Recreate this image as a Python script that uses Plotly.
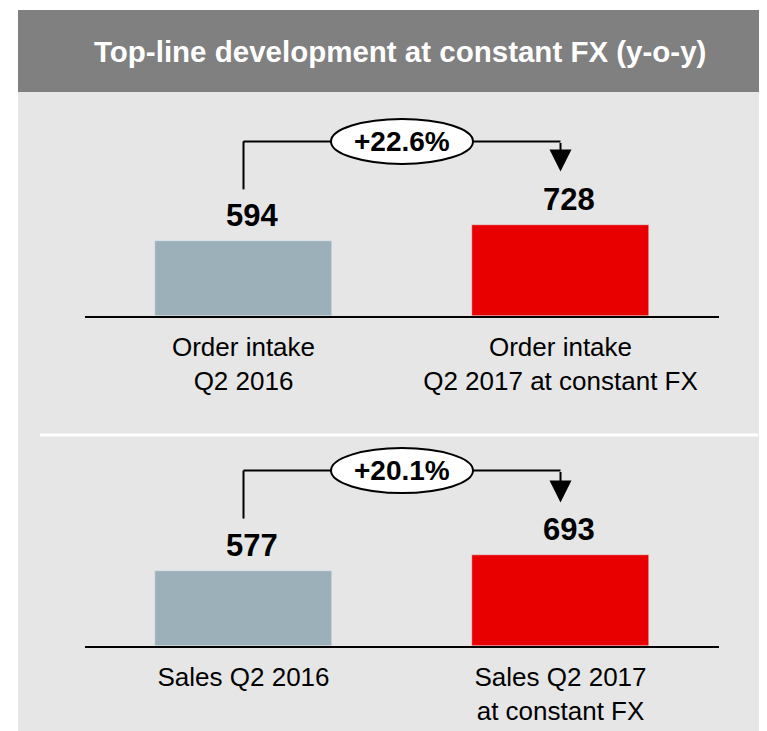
import plotly.graph_objects as go

# the page body has an 8px margin, so the figure starts at (8, 8)
OFF = 8
W, H = 767 - OFF, 731 - OFF

title = "Top-line development at constant FX (y-o-y)"

order_labels = ["Order intake<br>Q2 2016", "Order intake<br>Q2 2017 at constant FX"]
order_values = [594, 728]
order_change = "+22.6%"

sales_labels = ["Sales Q2 2016", "Sales Q2 2017<br>at constant FX"]
sales_values = [577, 693]
sales_change = "+20.1%"

bar_colors = ["#9BB0B8", "#E80000"]
FONT = "Liberation Sans, Arial, sans-serif"


def px_x(p):
    return (p - OFF) / W


def px_y(p):
    return 1 - (p - OFF) / H


# pixel geometry of each panel: baseline, top of plot area, y-range max
panels = [
    dict(xa="x", ya="y", labels=order_labels, values=order_values,
         change=order_change, base=316, top=92, ymax=1783),
    dict(xa="x2", ya="y2", labels=sales_labels, values=sales_values,
         change=sales_change, base=646, top=438, ymax=1591),
]

x0_px, x1_px = 85, 719
cat_px = (x1_px - x0_px) / 2  # pixels per category

fig = go.Figure()

shapes = [
    # light background and dark header band
    dict(type="rect", xref="paper", yref="paper", x0=px_x(18), x1=1,
         y0=0, y1=px_y(92), fillcolor="#E6E6E6", line_width=0, layer="below"),
    dict(type="rect", xref="paper", yref="paper", x0=px_x(18), x1=1,
         y0=px_y(92), y1=px_y(10), fillcolor="#808080", line_width=0, layer="below"),
    # white separator between panels
    dict(type="line", xref="paper", yref="paper", x0=px_x(40), x1=px_x(758),
         y0=px_y(435), y1=px_y(435), line=dict(color="white", width=3), layer="below"),
]

annotations = [
    dict(text=title, x=px_x(400), y=px_y(51), xref="paper", yref="paper",
         xanchor="center", yanchor="middle", showarrow=False,
         font=dict(family=FONT, size=29.5, color="white", weight="bold")),
]

layout_axes = {}

for i, p in enumerate(panels):
    xa, ya = p["xa"], p["ya"]
    v0, v1 = p["values"]
    upp = p["ymax"] / (p["base"] - p["top"])  # data units per pixel

    fig.add_trace(go.Bar(
        x=[0, 1], y=p["values"], marker_color=bar_colors, width=0.56,
        xaxis=xa, yaxis=ya, showlegend=False, hoverinfo="skip",
    ))

    # value labels above bars
    for k, v in enumerate(p["values"]):
        annotations.append(dict(
            text=str(v), x=k, y=v, xref=xa, yref=ya, xshift=8, yshift=6,
            yanchor="bottom", showarrow=False,
            font=dict(family=FONT, size=31, color="black", weight="bold"),
        ))

    left_bottom = v0 + 52 * upp
    level = v0 + 100 * upp
    tip = v1 + 53 * upp
    ln = dict(color="black", width=2)
    shapes += [
        dict(type="line", xref=xa, yref=ya, x0=0, x1=0, y0=left_bottom, y1=level, line=ln),
        dict(type="line", xref=xa, yref=ya, x0=0, x1=1, y0=level, y1=level, line=ln),
        dict(type="circle", xref=xa, yref=ya,
             x0=0.5 - 71 / cat_px, x1=0.5 + 71 / cat_px,
             y0=level - 22.5 * upp, y1=level + 22.5 * upp,
             fillcolor="white", line=dict(color="black", width=2)),
    ]
    annotations += [
        dict(text="", x=1, y=tip, ax=1, ay=level, xref=xa, yref=ya,
             axref=xa, ayref=ya, showarrow=True, arrowhead=2,
             arrowwidth=2, arrowsize=2.2, arrowcolor="black"),
        dict(text=p["change"], x=0.5, y=level, xref=xa, yref=ya, showarrow=False,
             font=dict(family=FONT, size=28, color="black", weight="bold")),
    ]

    xname = "xaxis" if i == 0 else "xaxis2"
    yname = "yaxis" if i == 0 else "yaxis2"
    layout_axes[xname] = dict(
        domain=[px_x(x0_px), px_x(x1_px)], anchor=ya, range=[-0.5, 1.5],
        tickmode="array", tickvals=[0, 1], ticktext=p["labels"],
        showline=True, linecolor="black", linewidth=2, ticks="",
        ticklabelstandoff=7,
        showgrid=False, zeroline=False, fixedrange=True,
        tickfont=dict(family=FONT, size=26, color="black"),
    )
    layout_axes[yname] = dict(
        domain=[px_y(p["base"]), px_y(p["top"])], anchor=xa,
        range=[0, p["ymax"]], visible=False, fixedrange=True,
    )

fig.update_layout(
    width=W, height=H,
    margin=dict(l=0, r=0, t=0, b=0),
    paper_bgcolor="white",
    plot_bgcolor="rgba(0,0,0,0)",
    shapes=shapes,
    annotations=annotations,
    bargap=0,
    **layout_axes,
)

fig.write_html("out.html")
